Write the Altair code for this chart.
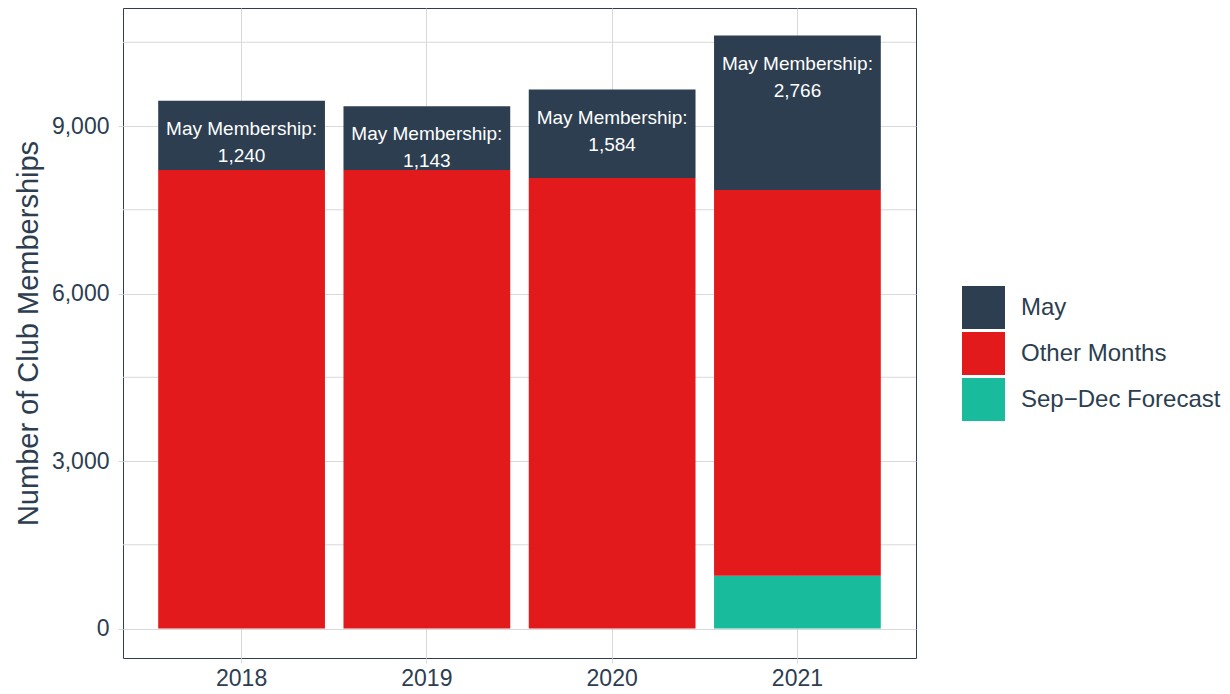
import altair as alt
import pandas as pd

# ---- data ----
years = ["2018", "2019", "2020", "2021"]
may_members = [1240, 1143, 1584, 2766]
other_months = [8213, 8213, 8070, 6909]
sep_dec_forecast = [0, 0, 0, 946]

series_names = ["May", "Other Months", "Sep\u2212Dec Forecast"]
series_colors = ["#2C3E50", "#E31A1C", "#18BC9C"]
major_ticks = [0, 3000, 6000, 9000]
minor_ticks = [1500, 4500, 7500, 10500]
label_prefix = "May Membership:"
y_title = "Number of Club Memberships"

# ---- tables built from the arrays ----
rows = []
for i, yr in enumerate(years):
    for name, vals, rank in [
        (series_names[2], sep_dec_forecast, 0),
        (series_names[1], other_months, 1),
        (series_names[0], may_members, 2),
    ]:
        if vals[i] > 0:
            rows.append({"year": yr, "series": name, "value": vals[i], "rank": rank})
bars_df = pd.DataFrame(rows)

labels_df = pd.DataFrame({
    "year": years,
    "may": may_members,
    "total": [a + b + c for a, b, c in zip(may_members, other_months, sep_dec_forecast)],
    "prefix": [label_prefix] * len(years),
})
minor_df = pd.DataFrame({"v": minor_ticks})

FONT = "Liberation Sans"
INK = "#2C3E50"
GRID = "#D9D9D9"

y_scale = alt.Scale(domain=[-528, 11114], nice=False, zero=False)
y_axis = alt.Axis(
    values=major_ticks, labelExpr="format(datum.value, ',')", title=y_title,
    labelFontSize=23, labelColor=INK, labelPadding=9, labelFont=FONT,
    tickSize=5, tickColor=GRID, gridColor=GRID, gridWidth=1, domain=False,
    titleFontSize=29, titleFontWeight="normal", titleColor=INK, titleFont=FONT,
    titleX=-86, titleY=325, titleAngle=270, titleAlign="center", titleBaseline="alphabetic",
)
x_enc = alt.X(
    "year:N",
    scale=alt.Scale(paddingInner=0.1, paddingOuter=0.19),
    axis=alt.Axis(
        title=None, labelAngle=0, labelFontSize=23, labelColor=INK, labelFont=FONT,
        labelPadding=4, tickSize=5, tickColor=GRID, grid=True, gridColor=GRID,
        gridWidth=1, domain=False, bandPosition=0.5,
    ),
)

minor = alt.Chart(minor_df).mark_rule(color=GRID, strokeWidth=1).encode(
    y=alt.Y("v:Q", scale=y_scale, axis=y_axis, title=y_title)
)

bars = alt.Chart(bars_df).mark_bar().encode(
    x=x_enc,
    y=alt.Y("value:Q", stack="zero", scale=y_scale, title=y_title),
    color=alt.Color(
        "series:N",
        scale=alt.Scale(domain=series_names, range=series_colors),
        legend=alt.Legend(
            orient="none", legendX=839, legendY=278, title=None,
            symbolType="square", symbolSize=1849, symbolStrokeWidth=0,
            labelFontSize=24, labelColor=INK, labelFont=FONT, labelLimit=400,
            labelOffset=16, rowPadding=3, padding=0,
        ),
    ),
    order=alt.Order("rank:Q", sort="ascending"),
)

text1 = alt.Chart(labels_df).mark_text(
    color="white", fontSize=19, font=FONT, baseline="middle", dy=28
).encode(
    x=alt.X("year:N"),
    y=alt.Y("total:Q", scale=y_scale, title=y_title),
    text="prefix:N",
)

text2 = alt.Chart(labels_df).mark_text(
    color="white", fontSize=19, font=FONT, baseline="middle", dy=55
).encode(
    x=alt.X("year:N"),
    y=alt.Y("total:Q", scale=y_scale, title=y_title),
    text=alt.Text("may:Q", format=","),
)

chart = (
    alt.layer(minor, bars, text1, text2)
    .properties(
        width=793, height=650,
        autosize=alt.AutoSizeParams(type="none"),
        padding={"left": 115, "top": 0, "right": 306, "bottom": 33},
        background="white",
    )
    .configure_view(stroke=INK, strokeWidth=1)
)

chart.save("out.html", embed_options={"renderer": "svg", "actions": False})
